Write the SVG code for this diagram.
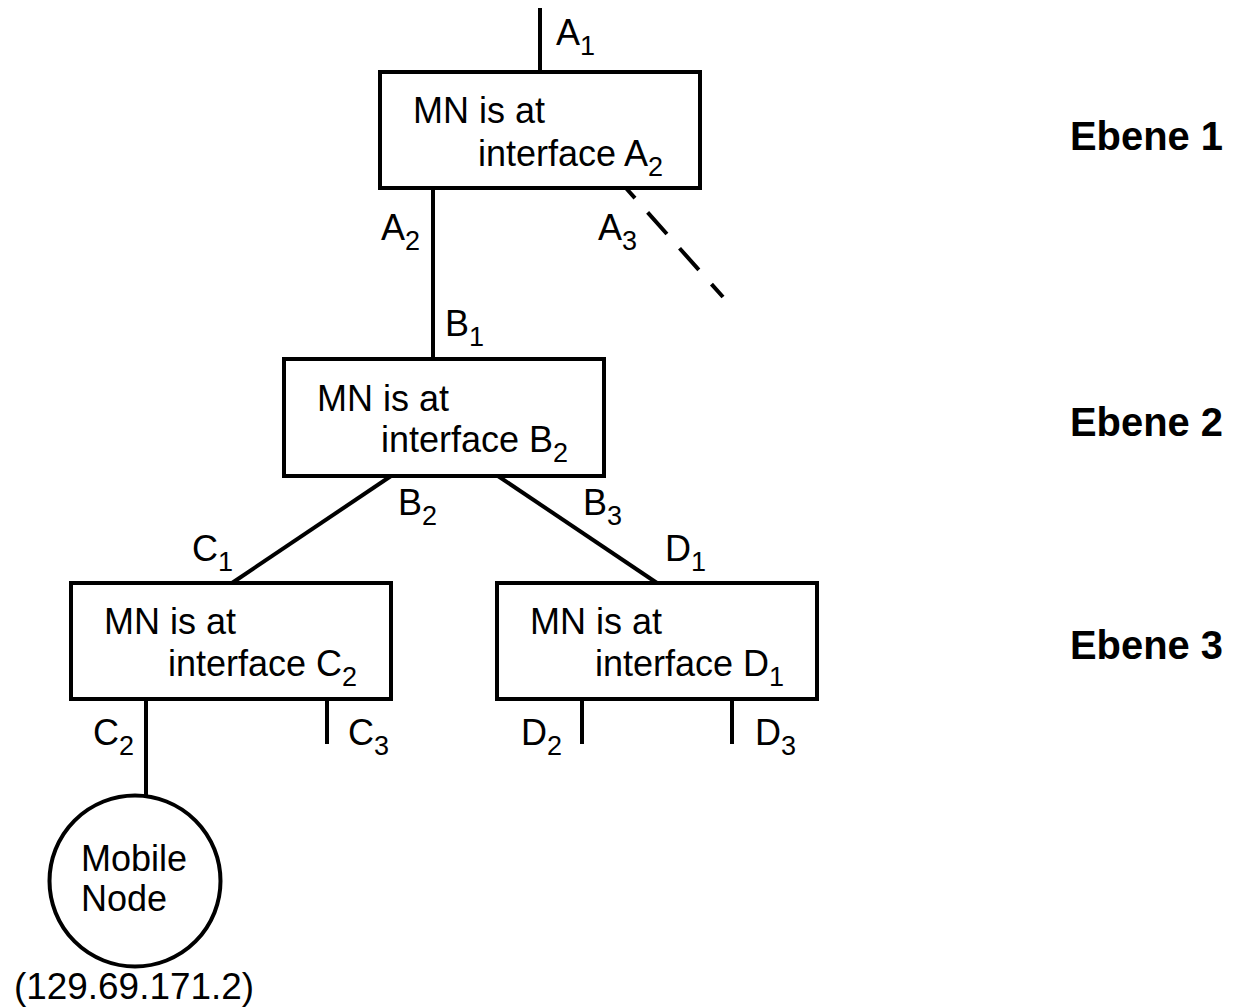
<svg xmlns="http://www.w3.org/2000/svg" width="1245" height="1007" viewBox="0 0 1245 1007">
  <style>
    text { font-family: "Liberation Sans", Arial, sans-serif; font-size: 36px; fill: #000; }
    .sub { font-size: 27px; }
    .level { font-weight: bold; font-size: 40px; }
    .box { fill: #fff; stroke: #000; stroke-width: 4; }
    .link { stroke: #000; stroke-width: 4; fill: none; }
    .dash { stroke-dasharray: 29 19; stroke-dashoffset: 14; }
  </style>

  <rect width="1245" height="1007" fill="#fff"/>

  <!-- connectors -->
  <g id="connectors">
    <line class="link" x1="540" y1="8" x2="540" y2="72"/>
    <line class="link" x1="433" y1="188" x2="433" y2="359"/>
    <line class="link dash" x1="625" y1="187" x2="723" y2="297"/>
    <line class="link" x1="391" y1="476" x2="232" y2="583"/>
    <line class="link" x1="498" y1="476" x2="657" y2="583"/>
    <line class="link" x1="146" y1="699" x2="146" y2="797"/>
    <line class="link" x1="327" y1="699" x2="327" y2="744"/>
    <line class="link" x1="582" y1="699" x2="582" y2="744"/>
    <line class="link" x1="732" y1="699" x2="732" y2="744"/>

    <!-- interface labels -->
    <text x="556" y="45">A<tspan class="sub" dy="10">1</tspan></text>
    <text x="381" y="240">A<tspan class="sub" dy="10">2</tspan></text>
    <text x="598" y="240">A<tspan class="sub" dy="10">3</tspan></text>
    <text x="445" y="336">B<tspan class="sub" dy="10">1</tspan></text>
    <text x="398" y="515">B<tspan class="sub" dy="10">2</tspan></text>
    <text x="583" y="515">B<tspan class="sub" dy="10">3</tspan></text>
    <text x="192" y="561">C<tspan class="sub" dy="10">1</tspan></text>
    <text x="665" y="561">D<tspan class="sub" dy="10">1</tspan></text>
    <text x="93" y="745">C<tspan class="sub" dy="10">2</tspan></text>
    <text x="348" y="745">C<tspan class="sub" dy="10">3</tspan></text>
    <text x="521" y="745">D<tspan class="sub" dy="10">2</tspan></text>
    <text x="755" y="745">D<tspan class="sub" dy="10">3</tspan></text>
  </g>

  <!-- level 1 router -->
  <g id="node-a">
    <rect class="box" x="380" y="72" width="320" height="116"/>
    <text x="413" y="123">MN is at</text>
    <text x="478" y="166">interface A<tspan class="sub" dy="10">2</tspan></text>
  </g>

  <!-- level 2 router -->
  <g id="node-b">
    <rect class="box" x="284" y="359" width="320" height="117"/>
    <text x="317" y="411">MN is at</text>
    <text x="381" y="452">interface B<tspan class="sub" dy="10">2</tspan></text>
  </g>

  <!-- level 3 routers -->
  <g id="node-c">
    <rect class="box" x="71" y="583" width="320" height="116"/>
    <text x="104" y="634">MN is at</text>
    <text x="168" y="676">interface C<tspan class="sub" dy="10">2</tspan></text>
  </g>

  <g id="node-d">
    <rect class="box" x="497" y="583" width="320" height="116"/>
    <text x="530" y="634">MN is at</text>
    <text x="595" y="676">interface D<tspan class="sub" dy="10">1</tspan></text>
  </g>

  <!-- mobile node -->
  <g id="mobile-node">
    <circle cx="135" cy="881" r="85.5" fill="#fff" stroke="#000" stroke-width="4"/>
    <text x="81" y="871">Mobile</text>
    <text x="81" y="911">Node</text>
    <text x="14" y="999" textLength="240" lengthAdjust="spacingAndGlyphs">(129.69.171.2)</text>
  </g>

  <!-- hierarchy levels -->
  <g id="levels">
    <text class="level" x="1070" y="150" textLength="153" lengthAdjust="spacingAndGlyphs">Ebene 1</text>
    <text class="level" x="1070" y="436" textLength="153" lengthAdjust="spacingAndGlyphs">Ebene 2</text>
    <text class="level" x="1070" y="659" textLength="153" lengthAdjust="spacingAndGlyphs">Ebene 3</text>
  </g>
</svg>
